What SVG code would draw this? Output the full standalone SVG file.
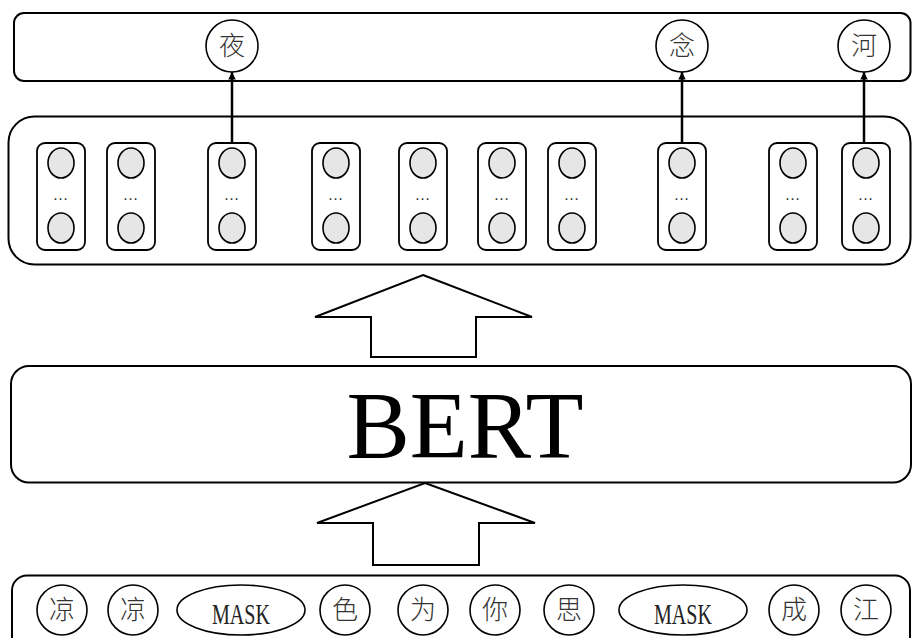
<svg xmlns="http://www.w3.org/2000/svg" width="912" height="638" viewBox="0 0 912 638">
  <style>
    .box { fill: #ffffff; stroke: #000000; stroke-width: 2; }
    .col { fill: #ffffff; stroke: #000000; stroke-width: 1.8; }
    .unit { fill: #e6e6e6; stroke: #000000; stroke-width: 1.6; }
    .tok { fill: #ffffff; stroke: #000000; stroke-width: 1.6; }
    .big { fill: #ffffff; stroke: #000000; stroke-width: 2; stroke-linejoin: miter; }
    .link { stroke: #000000; stroke-width: 2.5; fill: none; }
    .cjk { font-family: "Liberation Serif", "Noto Sans CJK SC", serif; font-size: 26px; font-weight: 300; fill: #333333; text-anchor: middle; dominant-baseline: central; }
    .mask { font-family: "Liberation Serif", serif; font-size: 30px; fill: #222222; text-anchor: middle; }
    .dots { font-family: "Liberation Sans", sans-serif; font-size: 16px; fill: #333333; text-anchor: middle; }
    .bert { font-family: "Liberation Serif", serif; font-size: 95px; fill: #000000; text-anchor: middle; }
  </style>
  <defs>
    <marker id="head" viewBox="0 0 10 10" refX="10" refY="5" markerWidth="3" markerHeight="3" orient="auto" markerUnits="strokeWidth">
      <path d="M0,0 L10,5 L0,10 Z" fill="#000000"/>
    </marker>
    <g id="column">
      <rect class="col" x="-24" y="0" width="48" height="107" rx="8" ry="8"/>
      <ellipse class="unit" cx="0" cy="20" rx="13" ry="15"/>
      <text class="dots" x="0" y="57" letter-spacing="1">…</text>
      <ellipse class="unit" cx="0" cy="85" rx="13" ry="15"/>
    </g>
  </defs>

  <!-- output layer -->
  <g id="output-layer">
    <rect class="box" x="14" y="13" width="896.5" height="68" rx="10" ry="10"/>
    <g id="out-ye">
      <circle class="tok" cx="232" cy="46" r="26"/>
      <text class="cjk" x="232" y="46">夜</text>
    </g>
    <g id="out-nian">
      <circle class="tok" cx="682" cy="46" r="26"/>
      <text class="cjk" x="682" y="46">念</text>
    </g>
    <g id="out-he">
      <circle class="tok" cx="864" cy="46" r="26"/>
      <text class="cjk" x="864" y="46">河</text>
    </g>
  </g>

  <!-- hidden vectors -->
  <g id="hidden-layer">
    <rect class="box" x="8.5" y="116.5" width="902" height="148" rx="26" ry="26"/>
    <g id="h1"><use href="#column" x="61" y="143"/></g>
    <g id="h2"><use href="#column" x="131" y="143"/></g>
    <g id="h3"><use href="#column" x="232" y="143"/></g>
    <g id="h4"><use href="#column" x="336" y="143"/></g>
    <g id="h5"><use href="#column" x="423" y="143"/></g>
    <g id="h6"><use href="#column" x="502" y="143"/></g>
    <g id="h7"><use href="#column" x="572" y="143"/></g>
    <g id="h8"><use href="#column" x="682" y="143"/></g>
    <g id="h9"><use href="#column" x="793" y="143"/></g>
    <g id="h10"><use href="#column" x="866" y="143"/></g>
  </g>

  <!-- encoder -->
  <g id="bert">
    <rect class="box" x="11" y="366" width="900" height="116.5" rx="18" ry="18"/>
    <text class="bert" x="465" y="458">BERT</text>
  </g>

  <!-- input tokens -->
  <g id="input-layer">
    <rect class="box" x="12" y="575.5" width="898" height="80" rx="15" ry="15"/>
    <g id="tok1"><circle class="tok" cx="62" cy="610" r="25"/><text class="cjk" x="62" y="610">凉</text></g>
    <g id="tok2"><circle class="tok" cx="133" cy="610" r="25"/><text class="cjk" x="133" y="610">凉</text></g>
    <g id="tok3"><ellipse class="tok" cx="241" cy="610" rx="64" ry="25"/><text class="mask" x="241" y="624" textLength="58" lengthAdjust="spacingAndGlyphs">MASK</text></g>
    <g id="tok4"><circle class="tok" cx="345" cy="610" r="25"/><text class="cjk" x="345" y="610">色</text></g>
    <g id="tok5"><circle class="tok" cx="423" cy="610" r="25"/><text class="cjk" x="423" y="610">为</text></g>
    <g id="tok6"><circle class="tok" cx="495" cy="610" r="25"/><text class="cjk" x="495" y="610">你</text></g>
    <g id="tok7"><circle class="tok" cx="569" cy="610" r="25"/><text class="cjk" x="569" y="610">思</text></g>
    <g id="tok8"><ellipse class="tok" cx="683" cy="610" rx="64" ry="25"/><text class="mask" x="683" y="624" textLength="58" lengthAdjust="spacingAndGlyphs">MASK</text></g>
    <g id="tok9"><circle class="tok" cx="794" cy="610" r="25"/><text class="cjk" x="794" y="610">成</text></g>
    <g id="tok10"><circle class="tok" cx="866" cy="610" r="25"/><text class="cjk" x="866" y="610">江</text></g>
  </g>

  <!-- connectors -->
  <g id="connectors">
    <line class="link" x1="232" y1="143" x2="232" y2="72" marker-end="url(#head)"/>
    <line class="link" x1="682" y1="143" x2="682" y2="72" marker-end="url(#head)"/>
    <line class="link" x1="864" y1="143" x2="864" y2="72" marker-end="url(#head)"/>
    <path class="big" d="M423,275 L532,317 L476,317 L476,357 L371,357 L371,317 L315,317 Z"/>
    <path class="big" d="M425,483 L535,523 L479,523 L479,565 L373,565 L373,523 L317,523 Z"/>
  </g>
</svg>
